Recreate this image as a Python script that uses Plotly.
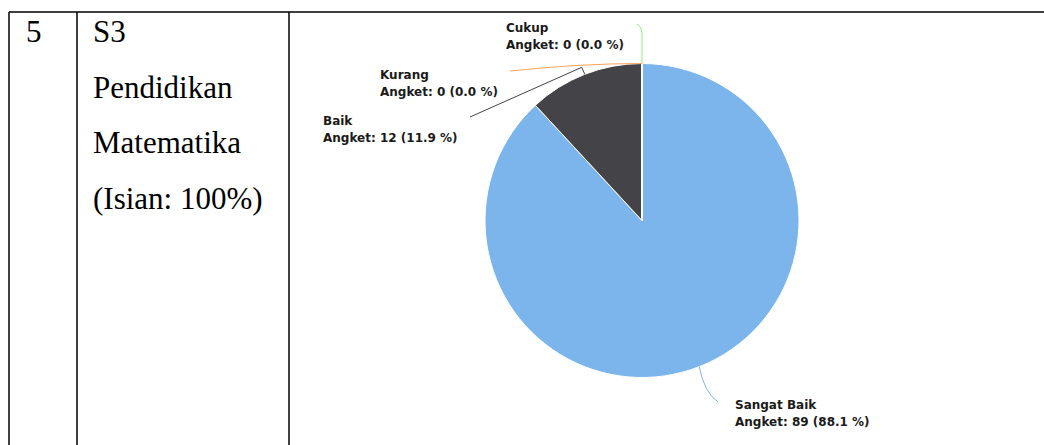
import math
import plotly.graph_objects as go

# ---- data ----
categories = ["Sangat Baik", "Baik", "Cukup", "Kurang"]
counts = [89, 12, 0, 0]
percents = [88.1, 11.9, 0.0, 0.0]
colors = ["#7cb5ec", "#434348", "#90ed7d", "#f7a35c"]
row_number = "5"
row_lines = ["S3", "Pendidikan", "Matematika", "(Isian: 100%)"]

W, H = 1044, 445
def px(x):
    return x / W
def py(y):
    return 1 - y / H

# pie geometry (pixels)
CX, CY, R = 642, 220.5, 157

fig = go.Figure()
fig.add_trace(go.Pie(
    labels=categories, values=counts, sort=False, direction="clockwise",
    rotation=0, marker=dict(colors=colors, line=dict(color="white", width=1)),
    textinfo="none", hoverinfo="label+value+percent", showlegend=False,
    domain=dict(x=[px(CX - R), px(CX + R)], y=[py(CY + R), py(CY - R)]),
))

# slice mid-angle anchor points computed from the data
total = sum(counts)
anchors = []
cum = 0
for v in counts:
    a = 2 * math.pi * (cum + v / 2) / total
    anchors.append((CX + R * math.sin(a), CY - R * math.cos(a)))
    cum += v

# label placements (pixels): left x, first line center y
label_pos = {
    "Sangat Baik": (733, 405),
    "Baik": (321, 121),
    "Cukup": (504, 28),
    "Kurang": (378, 75),
}

annotations = []
for cat, n, p in zip(categories, counts, percents):
    lx, ly = label_pos[cat]
    for i, t in enumerate([cat, f"Angket: {n} ({p:.1f} %)"]):
        annotations.append(dict(
            x=px(lx), y=py(ly + i * 17), xref="paper", yref="paper",
            xanchor="left", yanchor="middle", text=f"<b>{t}</b>", showarrow=False,
            font=dict(family="DejaVu Sans", size=12, color="#1a1a1a"),
        ))

def path(pts):
    s = f"M {px(pts[0][0])},{py(pts[0][1])}"
    for q in pts[1:]:
        s += f" L {px(q[0])},{py(q[1])}"
    return s

shapes = []
a0 = anchors[0]
shapes.append(dict(type="path", xref="paper", yref="paper",
                   path=f"M {px(a0[0])},{py(a0[1])} Q {px(a0[0]+5)},{py(a0[1]+26)} {px(718)},{py(402)}",
                   line=dict(color=colors[0], width=1)))
a1 = anchors[1]
shapes.append(dict(type="path", xref="paper", yref="paper",
                   path=path([a1, (a1[0] - 3, a1[1] - 7), (470, 117)]),
                   line=dict(color=colors[1], width=1)))
a2 = anchors[2]
shapes.append(dict(type="path", xref="paper", yref="paper",
                   path=f"M {px(a2[0])},{py(a2[1])} L {px(a2[0])},{py(32)} Q {px(a2[0]-1)},{py(26)} {px(637)},{py(24)}",
                   line=dict(color=colors[2], width=1)))
a3 = anchors[3]
shapes.append(dict(type="path", xref="paper", yref="paper",
                   path=f"M {px(a3[0])},{py(a3[1])} Q {px(580)},{py(a3[1])} {px(510)},{py(71)}",
                   line=dict(color=colors[3], width=1)))

# table borders
tl = dict(color="black", width=1.5)
shapes.append(dict(type="line", xref="paper", yref="paper", x0=px(9), x1=1, y0=py(12), y1=py(12), line=tl))
for x in (9, 77, 289):
    shapes.append(dict(type="line", xref="paper", yref="paper", x0=px(x), x1=px(x), y0=py(12), y1=0, line=tl))

serif = dict(family="Liberation Serif", size=31, color="black")
annotations.append(dict(x=px(24), y=py(31.5), xref="paper", yref="paper", xanchor="left",
                        yanchor="middle", text=row_number, showarrow=False, font=serif))
for i, t in enumerate(row_lines):
    annotations.append(dict(x=px(91), y=py(31.5 + i * 55.5), xref="paper", yref="paper",
                            xanchor="left", yanchor="middle", text=t, showarrow=False, font=serif))

fig.update_layout(width=W, height=H, margin=dict(l=0, r=0, t=0, b=0),
                  paper_bgcolor="white", plot_bgcolor="white",
                  annotations=annotations, shapes=shapes)
fig.write_html("out.html", config={"displayModeBar": False},
               post_script="document.body.style.margin='0';document.body.style.overflow='hidden';")
